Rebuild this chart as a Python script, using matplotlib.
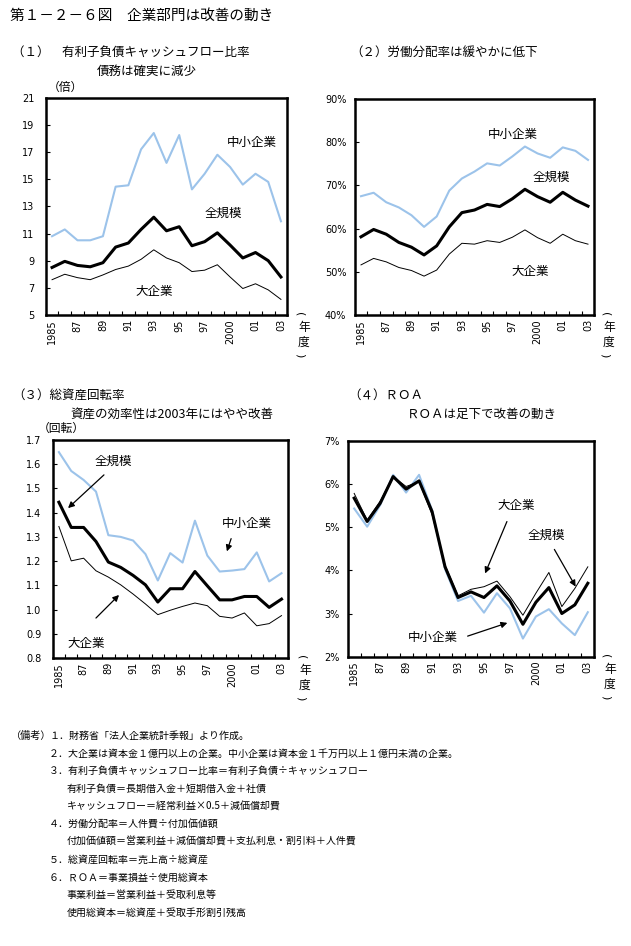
import numpy as np
import matplotlib
matplotlib.use("Agg")
import matplotlib.pyplot as plt
from matplotlib.ticker import FixedLocator

plt.rcParams['font.family'] = ['Noto Sans CJK JP', 'DejaVu Sans']

W, H = 631, 946

years = list(range(1985, 2004))
xlabels = ['1985', '87', '89', '91', '93', '95', '97', '2000', '01', '03']

# (1) interest-bearing debt / cash flow (times)
debt_small = [10.8, 11.3, 10.5, 10.5, 10.8, 14.45, 14.55, 17.2, 18.4, 16.2,
              18.25, 14.25, 15.4, 16.8, 15.9, 14.6, 15.4, 14.8, 11.9]
debt_all = [8.5, 8.95, 8.65, 8.55, 8.85, 10.0, 10.3, 11.3, 12.2, 11.2,
            11.5, 10.1, 10.4, 11.05, 10.15, 9.2, 9.6, 9.0, 7.8]
debt_large = [7.6, 8.0, 7.75, 7.6, 7.95, 8.35, 8.6, 9.1, 9.8, 9.2,
              8.85, 8.2, 8.3, 8.7, 7.8, 6.95, 7.3, 6.85, 6.15]

# (2) labour share (%)
labor_small = [67.5, 68.3, 66.1, 64.9, 63.1, 60.4, 62.8, 68.8, 71.6, 73.2,
               75.1, 74.6, 76.7, 79.0, 77.4, 76.4, 78.8, 78.0, 75.9]
labor_all = [58.1, 59.8, 58.7, 56.8, 55.7, 53.9, 56.0, 60.4, 63.7, 64.3,
             65.6, 65.1, 66.9, 69.1, 67.4, 66.1, 68.4, 66.6, 65.2]
labor_large = [51.6, 53.1, 52.3, 51.0, 50.3, 49.0, 50.4, 54.1, 56.6, 56.4,
               57.2, 56.8, 58.0, 59.7, 57.9, 56.6, 58.7, 57.2, 56.4]

# (3) total asset turnover (times)
turn_small = [1.65, 1.572, 1.535, 1.487, 1.307, 1.30, 1.285, 1.229, 1.12, 1.233,
              1.194, 1.367, 1.223, 1.157, 1.161, 1.167, 1.236, 1.116, 1.15]
turn_all = [1.443, 1.339, 1.339, 1.281, 1.196, 1.174, 1.141, 1.102, 1.031, 1.086,
            1.086, 1.157, 1.098, 1.04, 1.04, 1.054, 1.054, 1.009, 1.043]
turn_large = [1.343, 1.201, 1.212, 1.16, 1.134, 1.102, 1.064, 1.023, 0.979, 0.997,
              1.013, 1.027, 1.016, 0.972, 0.965, 0.986, 0.933, 0.942, 0.975]

# (4) ROA (%)
roa_small = [5.43, 5.01, 5.51, 6.21, 5.80, 6.21, 5.39, 4.03, 3.29, 3.41,
             3.02, 3.47, 3.12, 2.42, 2.93, 3.10, 2.77, 2.50, 3.03]
roa_all = [5.67, 5.13, 5.55, 6.17, 5.88, 6.07, 5.36, 4.08, 3.37, 3.50,
           3.37, 3.64, 3.29, 2.75, 3.26, 3.60, 3.00, 3.20, 3.70]
roa_large = [5.78, 5.16, 5.60, 6.17, 5.94, 6.05, 5.29, 4.12, 3.41, 3.56,
             3.62, 3.75, 3.39, 2.96, 3.47, 3.95, 3.16, 3.58, 4.08]

notes = [
    ("（備考）", "１．財務省「法人企業統計季報」より作成。", 0),
    ("", "２．大企業は資本金１億円以上の企業。中小企業は資本金１千万円以上１億円未満の企業。", 0),
    ("", "３．有利子負債キャッシュフロー比率＝有利子負債÷キャッシュフロー", 0),
    ("", "有利子負債＝長期借入金＋短期借入金＋社債", 1),
    ("", "キャッシュフロー＝経常利益×0.5＋減価償却費", 1),
    ("", "４．労働分配率＝人件費÷付加価値額", 0),
    ("", "付加価値額＝営業利益＋減価償却費＋支払利息・割引料＋人件費", 1),
    ("", "５．総資産回転率＝売上高÷総資産", 0),
    ("", "６．ＲＯＡ＝事業損益÷使用総資本", 0),
    ("", "事業利益＝営業利益＋受取利息等", 1),
    ("", "使用総資本＝総資産＋受取手形割引残高", 1),
]

BLUE = '#9cc3ea'

fig = plt.figure(figsize=(W / 100, H / 100), dpi=100)


def px_axes(x0, y0, x1, y1):
    return fig.add_axes([x0 / W, 1 - y1 / H, (x1 - x0) / W, (y1 - y0) / H])


def ftext(x, y, s, **kw):
    fig.text(x / W, 1 - y / H, s, **kw)


def setup(ax, ylim, yticks, ylabels, ypad):
    x = np.arange(len(years))
    ax.set_xlim(-0.5, len(years) - 0.5)
    ax.set_ylim(*ylim)
    ax.set_xticks(x[::2])
    ax.set_xticklabels(xlabels, rotation=90, fontsize=7, va='top',
                       family='DejaVu Sans')
    ax.xaxis.set_minor_locator(FixedLocator(np.arange(0.5, len(years) - 1, 1)))
    ax.tick_params(axis='x', which='major', length=0, pad=3)
    ax.tick_params(axis='x', which='minor', length=3, direction='in', width=0.8)
    ax.set_yticks(yticks)
    ax.set_yticklabels(ylabels, fontsize=7, family='DejaVu Sans')
    ax.tick_params(axis='y', length=3, direction='in', width=0.8, pad=ypad)
    for sp in ax.spines.values():
        sp.set_linewidth(1.8)
    return x


def draw(ax, x, small, allv, large):
    ax.plot(x, small, color=BLUE, lw=1.5)
    ax.plot(x, large, color='black', lw=0.7)
    ax.plot(x, allv, color='black', lw=2.2)


def nendo(x, y):
    # vertical "(年度)" label right of the x axis
    ftext(x - 4, y, "(", fontsize=8, ha='center', va='center', rotation=-90,
          family='DejaVu Sans')
    ftext(x, y + 13, "年", fontsize=8.5, ha='center', va='center')
    ftext(x, y + 28, "度", fontsize=8.5, ha='center', va='center')
    ftext(x - 4, y + 41, ")", fontsize=8, ha='center', va='center', rotation=-90,
          family='DejaVu Sans')


def arrow(ax, start, end):
    ax.annotate('', xy=(end[0] / W, 1 - end[1] / H), xycoords='figure fraction',
                xytext=(start[0] / W, 1 - start[1] / H), textcoords='figure fraction',
                arrowprops=dict(arrowstyle='-|>', color='black', lw=0.9,
                                mutation_scale=9))


ftext(10, 16, "第１－２－６図　企業部門は改善の動き", fontsize=10.5, va='center')

# Panel 1
ax1 = px_axes(45.7, 97.7, 287.3, 315)
x = setup(ax1, (5, 21), range(5, 22, 2), [str(v) for v in range(5, 22, 2)], 8)
draw(ax1, x, debt_small, debt_all, debt_large)
ftext(12, 52, "（１）　有利子負債キャッシュフロー比率", fontsize=9, va='center')
ftext(97, 71, "債務は確実に減少", fontsize=9, va='center')
ftext(48, 87, "（倍）", fontsize=8.5, va='center')
ftext(252, 142, "中小企業", fontsize=9, ha='center', va='center')
ftext(223, 213, "全規模", fontsize=9, ha='center', va='center')
ftext(154, 291, "大企業", fontsize=9, ha='center', va='center')
nendo(304, 314)

# Panel 2
ax2 = px_axes(354.7, 99, 594.3, 315)
x = setup(ax2, (40, 90), range(40, 91, 10), [f"{v}%" for v in range(40, 91, 10)], 6)
draw(ax2, x, labor_small, labor_all, labor_large)
ftext(350, 52, "（２）労働分配率は緩やかに低下", fontsize=9, va='center')
ftext(513, 134, "中小企業", fontsize=9, ha='center', va='center')
ftext(551, 177, "全規模", fontsize=9, ha='center', va='center')
ftext(530, 271, "大企業", fontsize=9, ha='center', va='center')
nendo(609, 314)

# Panel 3
ax3 = px_axes(52.7, 440, 287.7, 658)
x = setup(ax3, (0.8, 1.7), np.arange(0.8, 1.71, 0.1),
          [f"{v:.1f}" for v in np.arange(0.8, 1.71, 0.1)], 8)
draw(ax3, x, turn_small, turn_all, turn_large)
ftext(12, 395, "（３）総資産回転率", fontsize=9, va='center')
ftext(70, 414, "資産の効率性は2003年にはやや改善", fontsize=9, va='center')
ftext(38, 428, "（回転）", fontsize=8.5, va='center')
ftext(113, 461, "全規模", fontsize=9, ha='center', va='center')
ftext(247, 523, "中小企業", fontsize=9, ha='center', va='center')
ftext(86, 643, "大企業", fontsize=9, ha='center', va='center')
arrow(ax3, (106, 473), (66, 510))
arrow(ax3, (232, 536), (226, 554))
arrow(ax3, (94, 620), (121, 593))
nendo(305, 657)

# Panel 4
ax4 = px_axes(347.7, 440.7, 594.3, 656.7)
x = setup(ax4, (2, 7), range(2, 8), [f"{v}%" for v in range(2, 8)], 6)
draw(ax4, x, roa_small, roa_all, roa_large)
ftext(348, 395, "（４）ＲＯＡ", fontsize=9, va='center')
ftext(407, 414, "ＲＯＡは足下で改善の動き", fontsize=9, va='center')
ftext(516, 506, "大企業", fontsize=9, ha='center', va='center')
ftext(546, 535, "全規模", fontsize=9, ha='center', va='center')
ftext(433, 637, "中小企業", fontsize=9, ha='center', va='center')
arrow(ax4, (508, 519), (484, 576))
arrow(ax4, (553, 547), (577, 589))
arrow(ax4, (465, 637), (510, 622))
nendo(610, 656)

# Notes
y0 = 736
for i, (head, body, indent) in enumerate(notes):
    yy = y0 + i * 17.7
    if head:
        ftext(11, yy, head, fontsize=7.3, va='center')
    ftext(49 + indent * 18, yy, body, fontsize=7.2, va='center')

fig.savefig("out.png", dpi=100)
